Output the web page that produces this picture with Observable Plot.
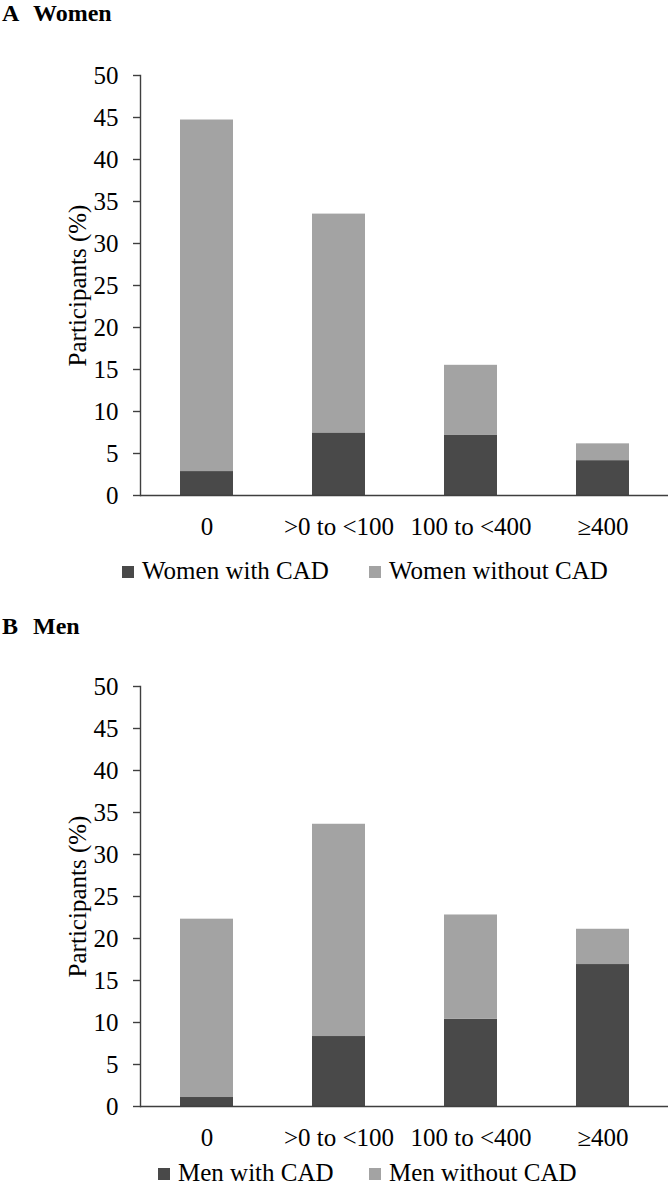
<!DOCTYPE html>
<html>
<head>
<meta charset="utf-8">
<script src="https://cdn.jsdelivr.net/npm/d3@7"></script>
<script src="https://cdn.jsdelivr.net/npm/@observablehq/plot@0.6"></script>
<style>
  html, body { margin: 0; padding: 0; background: #fff; }
  #page { position: relative; width: 669px; height: 1192px; overflow: hidden; font-family: "Liberation Serif", "Times New Roman", serif; color: #000; }
  .title { position: absolute; left: 2px; font-weight: bold; font-size: 24px; line-height: 26px; white-space: pre; }
  .title .letter { display: inline-block; width: 31px; }
  .plot { position: absolute; left: 0; }
  .legend { position: absolute; left: 0; width: 669px; height: 28px; font-size: 25px; line-height: 25px; }
  .item { position: absolute; top: 0; white-space: nowrap; }
  .sw { position: absolute; width: 12px; height: 12px; top: 8px; left: 0; }
  .lbl { position: absolute; left: 20px; top: 0; }
</style>
</head>
<body>
<div id="page"></div>
<script>
// ---- data ----
const categories = ["0", ">0 to <100", "100 to <400", "≥400"];
const yTicks = [0, 5, 10, 15, 20, 25, 30, 35, 40, 45, 50];
const yLabel = "Participants (%)";

const womenSeries = ["Women with CAD", "Women without CAD"];
const womenWithCAD = [2.85, 7.45, 7.2, 4.15];
const womenWithoutCAD = [41.85, 26.05, 8.3, 2.0];

const menSeries = ["Men with CAD", "Men without CAD"];
const menWithCAD = [1.07, 8.33, 10.4, 16.9];
const menWithoutCAD = [21.23, 25.27, 12.4, 4.2];

const seriesColors = ["#494949", "#a3a3a3"];
const axisColor = "#3f3f3f";

// ---- layout ----
const page = document.getElementById("page");

function buildRows(series, withVals, withoutVals) {
  const rows = [];
  categories.forEach((c, i) => {
    rows.push({cat: c, series: series[0], value: withVals[i]});
    rows.push({cat: c, series: series[1], value: withoutVals[i]});
  });
  return rows;
}

function makePlot(rows, series) {
  return Plot.plot({
    width: 669,
    height: 485,
    marginTop: 15,
    marginBottom: 50,
    marginLeft: 140,
    marginRight: 1,
    style: {fontFamily: "'Liberation Serif', 'Times New Roman', serif", fontSize: "25px", color: "#000", background: "#fff"},
    x: {domain: categories, paddingInner: 0.6, paddingOuter: 0.3, label: null},
    y: {domain: [0, 50], label: null},
    color: {domain: series, range: seriesColors},
    marks: [
      Plot.barY(rows, {x: "cat", y: "value", fill: "series", order: series}),
      Plot.ruleY([0], {stroke: axisColor, strokeWidth: 1.4}),
      Plot.frame({anchor: "left", stroke: axisColor, strokeWidth: 1.4}),
      Plot.axisY({ticks: yTicks, tickSize: 7, tickPadding: 15, stroke: axisColor, strokeWidth: 1.4, fontSize: 25, fill: "#000", label: null}),
      Plot.axisX({tickSize: 0, tickPadding: 22, fontSize: 25, fill: "#000", label: null}),
      Plot.text([yLabel], {text: d => d, frameAnchor: "left", textAnchor: "middle", lineAnchor: "middle", dx: -63, rotate: -90, fontSize: 25, fill: "#000"})
    ]
  });
}

function addTitle(letter, word, top) {
  const t = document.createElement("div");
  t.className = "title";
  t.style.top = top + "px";
  t.innerHTML = `<span class="letter">${letter}</span>${word}`;
  page.appendChild(t);
}

function addPlot(plotEl, top) {
  plotEl.classList.add("plot");
  plotEl.style.top = top + "px";
  page.appendChild(plotEl);
}

function addLegend(series, lefts, top) {
  const lg = document.createElement("div");
  lg.className = "legend";
  lg.style.top = top + "px";
  series.forEach((s, i) => {
    const it = document.createElement("div");
    it.className = "item";
    it.style.left = lefts[i] + "px";
    it.innerHTML = `<span class="sw" style="background:${seriesColors[i]}"></span><span class="lbl">${s}</span>`;
    lg.appendChild(it);
  });
  page.appendChild(lg);
}

// Panel A
addTitle("A", "Women", 0);
addPlot(makePlot(buildRows(womenSeries, womenWithCAD, womenWithoutCAD), womenSeries), 60);
addLegend(womenSeries, [122, 369], 558);

// Panel B
addTitle("B", "Men", 613);
addPlot(makePlot(buildRows(menSeries, menWithCAD, menWithoutCAD), menSeries), 671);
addLegend(menSeries, [158, 369], 1160);
</script>
</body>
</html>
